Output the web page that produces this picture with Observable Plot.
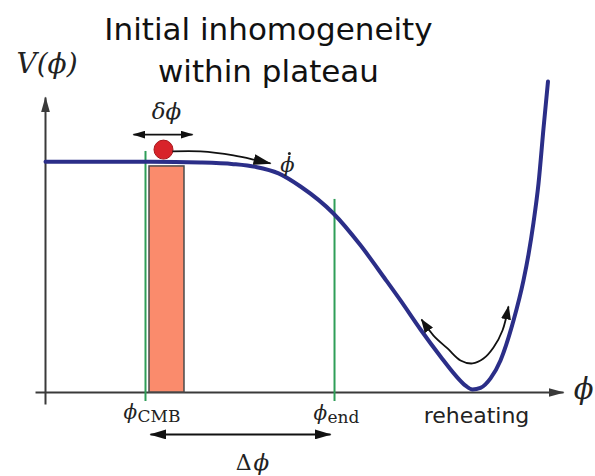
<!DOCTYPE html>
<html>
<head>
<meta charset="utf-8">
<script src="https://cdn.jsdelivr.net/npm/d3@7"></script>
<script src="https://cdn.jsdelivr.net/npm/@observablehq/plot@0.6"></script>
<style>
  html, body { margin: 0; padding: 0; background: #fff; }
</style>
</head>
<body>
<div id="chart"></div>
<script>
// ---- data (abstract units: phi along x, V along y) ----
const curvePhi = [0, 2.019, 2.981, 3.615, 4.038, 4.481, 4.904, 5.538, 6.058, 6.538, 6.827, 7.212, 7.596, 7.885, 8.077, 8.212, 8.365, 8.558, 8.75, 9.0, 9.192, 9.288, 9.385, 9.481, 9.577, 9.663];
const curveV   = [1.0, 1.0, 0.997, 0.990, 0.978, 0.950, 0.893, 0.776, 0.638, 0.490, 0.399, 0.273, 0.156, 0.074, 0.03, 0.013, 0.02, 0.061, 0.139, 0.312, 0.486, 0.598, 0.737, 0.906, 1.145, 1.348];

const xAxisPhi = [-0.192, 9.962];
const xAxisV = [0, 0];
const yAxisPhi = [0, 0];
const yAxisV = [-0.052, 1.279];

const phiCMB = 1.923, phiCMBTop = 1.045;
const phiEnd = 5.558, phiEndTop = 0.837;
const lineBottom = -0.039;

const barPhi = [2.0, 2.673];
const barTop = 0.98;

const ballPhi = 2.269, ballV = 1.053;

const deltaArrowPhi = [1.692, 2.827];
const deltaArrowV = 1.118;

const rollPhi = [2.442, 2.981, 3.615, 4.077, 4.327];
const rollV   = [1.045, 1.045, 1.028, 1.006, 0.993];

const DeltaArrowPhi = [2.019, 5.481];
const DeltaArrowV = -0.182;

const oscPhi = [7.231, 7.462, 7.731, 7.981, 8.212, 8.423, 8.615, 8.788, 8.904];
const oscV   = [0.316, 0.247, 0.191, 0.139, 0.126, 0.147, 0.195, 0.269, 0.373];

const titleText = "Initial inhomogeneity\nwithin plateau";

const toPts = (xs, ys) => xs.map((x, i) => ({phi: x, V: Array.isArray(ys) ? ys[i] : ys}));

// filled triangular arrowhead marker
function head(len, half) {
  const ns = "http://www.w3.org/2000/svg";
  return (color, context) => {
    const doc = (context && context.document) || document;
    const m = doc.createElementNS(ns, "marker");
    m.setAttribute("viewBox", `${-len} ${-half} ${len + 1} ${2 * half}`);
    m.setAttribute("markerWidth", len + 1);
    m.setAttribute("markerHeight", 2 * half);
    m.setAttribute("refX", 0);
    m.setAttribute("refY", 0);
    m.setAttribute("markerUnits", "userSpaceOnUse");
    m.setAttribute("orient", "auto-start-reverse");
    m.setAttribute("fill", color);
    m.setAttribute("stroke", "none");
    const p = doc.createElementNS(ns, "path");
    p.setAttribute("d", `M${-len},${-half}L1,0L${-len},${half}Z`);
    m.appendChild(p);
    return m;
  };
}

const axisHead = head(15, 4.5);
const smallHead = head(12, 4);
const rollHead = head(17, 5.5);
const DHead = head(16, 5);
const oscHead = head(13, 5);

const serif = "DejaVu Serif";
const sans = "DejaVu Sans";

const chart = Plot.plot({
  width: 595,
  height: 476,
  marginLeft: 45,
  marginRight: 30,
  marginTop: 46,
  marginBottom: 84,
  x: {domain: [0, 10], axis: null},
  y: {domain: [0, 1.5], axis: null},
  style: {background: "#fff", overflow: "hidden"},
  marks: [
    // axes
    Plot.line(toPts(xAxisPhi, xAxisV), {x: "phi", y: "V", stroke: "#3a3a3a", strokeWidth: 2, strokeLinecap: "butt", markerEnd: axisHead}),
    Plot.line(toPts(yAxisPhi, yAxisV), {x: "phi", y: "V", stroke: "#3a3a3a", strokeWidth: 2, strokeLinecap: "butt", markerEnd: axisHead}),
    // orange band
    Plot.rect([{x1: barPhi[0], x2: barPhi[1], y1: 0, y2: barTop}], {x1: "x1", x2: "x2", y1: "y1", y2: "y2", fill: "#fa8b6c", stroke: "#4a4a4a", strokeWidth: 1.5}),
    // green markers
    Plot.ruleX([phiCMB], {x: d => d, y1: lineBottom, y2: phiCMBTop, stroke: "#2f9e58", strokeWidth: 2}),
    Plot.ruleX([phiEnd], {x: d => d, y1: lineBottom, y2: phiEndTop, stroke: "#2f9e58", strokeWidth: 2}),
    // potential
    Plot.line(toPts(curvePhi, curveV), {x: "phi", y: "V", curve: "monotone-x", stroke: "#2b2e88", strokeWidth: 4}),
    // ball
    Plot.dot([{phi: ballPhi, V: ballV}], {x: "phi", y: "V", r: 9.5, fill: "#d8232a", stroke: "#a8181d", strokeWidth: 1}),
    // arrows
    Plot.line(toPts(deltaArrowPhi, deltaArrowV), {x: "phi", y: "V", stroke: "#111", strokeWidth: 1.8, strokeLinecap: "butt", markerStart: smallHead, markerEnd: smallHead}),
    Plot.line(toPts(rollPhi, rollV), {x: "phi", y: "V", curve: "catmull-rom", stroke: "#111", strokeWidth: 1.8, strokeLinecap: "butt", markerEnd: rollHead}),
    Plot.line(toPts(DeltaArrowPhi, DeltaArrowV), {x: "phi", y: "V", stroke: "#111", strokeWidth: 2, strokeLinecap: "butt", markerStart: DHead, markerEnd: DHead}),
    Plot.line(toPts(oscPhi, oscV), {x: "phi", y: "V", curve: "catmull-rom", stroke: "#111", strokeWidth: 1.8, strokeLinecap: "butt", markerStart: oscHead, markerEnd: oscHead}),
    // title
    Plot.text([titleText], {x: 4.288, y: 1.344, text: d => d, lineAnchor: "bottom", lineHeight: 1.355, fontFamily: sans, fontSize: 31, fill: "#111"}),
    // math labels
    Plot.text(["V(ϕ)"], {x: 0.029, y: 1.383, text: d => d, lineAnchor: "bottom", fontFamily: serif, fontStyle: "italic", fontSize: 28, fill: "#222"}),
    Plot.text(["δϕ"], {x: 2.327, y: 1.184, text: d => d, lineAnchor: "bottom", fontFamily: serif, fontStyle: "italic", fontSize: 23, fill: "#222"}),
    Plot.text(["ϕ"], {x: 4.654, y: 0.958, text: d => d, lineAnchor: "bottom", fontFamily: serif, fontStyle: "italic", fontSize: 21, fill: "#222"}),
    Plot.dot([{phi: 4.69, V: 1.036}], {x: "phi", y: "V", r: 1.5, fill: "#222"}),
    Plot.text(["ϕ"], {x: 1.5, y: -0.117, text: d => d, lineAnchor: "bottom", textAnchor: "start", fontFamily: serif, fontStyle: "italic", fontSize: 20, fill: "#222"}),
    Plot.text(["CMB"], {x: 1.769, y: -0.130, text: d => d, lineAnchor: "bottom", textAnchor: "start", fontFamily: serif, fontSize: 17, fill: "#222"}),
    Plot.text(["ϕ"], {x: 5.154, y: -0.121, text: d => d, lineAnchor: "bottom", textAnchor: "start", fontFamily: serif, fontStyle: "italic", fontSize: 20, fill: "#222"}),
    Plot.text(["end"], {x: 5.423, y: -0.134, text: d => d, lineAnchor: "bottom", textAnchor: "start", fontFamily: serif, fontSize: 17, fill: "#222"}),
    Plot.text(["Δ"], {x: 3.962, y: -0.338, text: d => d, lineAnchor: "bottom", textAnchor: "end", fontFamily: serif, fontSize: 22, fill: "#222"}),
    Plot.text(["ϕ"], {x: 4.0, y: -0.338, text: d => d, lineAnchor: "bottom", textAnchor: "start", fontFamily: serif, fontStyle: "italic", fontSize: 23, fill: "#222"}),
    Plot.text(["ϕ"], {x: 10.16, y: -0.030, text: d => d, lineAnchor: "bottom", textAnchor: "start", fontFamily: serif, fontStyle: "italic", fontSize: 29, fill: "#222"}),
    Plot.text(["reheating"], {x: 8.288, y: -0.134, text: d => d, lineAnchor: "bottom", fontFamily: sans, fontSize: 22, fill: "#222"})
  ]
});

document.getElementById("chart").appendChild(chart);
</script>
</body>
</html>
